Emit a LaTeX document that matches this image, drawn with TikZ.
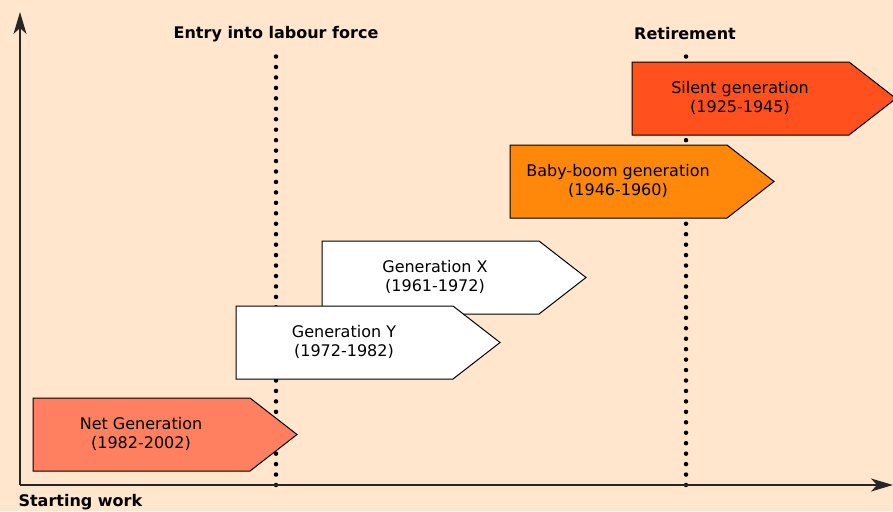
\documentclass[tikz,border=0pt]{standalone}
\usepackage{fontspec}
\setmainfont{DejaVu Sans}
\usetikzlibrary{arrows.meta}
\definecolor{bgpeach}{RGB}{255,230,205}
\definecolor{netsalmon}{RGB}{255,128,96}
\definecolor{boomorange}{RGB}{255,136,10}
\definecolor{silentred}{RGB}{255,80,30}
\tikzstyle{axis}=[line width=1.5pt,draw=black!85,-{Stealth[length=22pt,width=13pt,inset=6pt]}]
\tikzstyle{milestone}=[line width=4.5pt,line cap=round,dash pattern=on 0pt off 10.45pt]
\tikzstyle{genlabel}=[align=center,font=\fontsize{16}{19}\selectfont]
\tikzstyle{headlabel}=[font=\fontsize{16}{18}\selectfont\bfseries]
\newcommand{\drawgeneration}[6][108]{% Syntax: [text offset] {name}{left}{top}{fill}{label}
\draw[fill=#5,line width=1pt] (#3,#4) -- ++(217,0) -- ++(47,36.5) -- ++(-47,36.5) -- ++(-217,0) -- cycle;
\node[genlabel] (#2) at (#3+#1,#4+36) {#6};
}

\begin{document}
\begin{tikzpicture}[x=1pt,y=-1pt]
\fill[bgpeach] (0,0) rectangle (893,511);
\useasboundingbox (0,0) rectangle (893,511);
\coordinate (origin) at (20,485);
\coordinate (ytip) at (20,12);
\coordinate (xtip) at (893,485);
\coordinate (entrytop) at (276,48);
\coordinate (entrybot) at (276,485);
\coordinate (retiretop) at (686,48);
\coordinate (retirebot) at (686,485);
% milestones behind the generations
\draw[milestone] (entrybot) -- (entrytop);
\draw[milestone] (retirebot) -- (retiretop);
\draw[axis] (origin) -- (ytip);
\draw[axis] (origin) -- (xtip);
\node[headlabel] (entry) at (276,34) {Entry into labour force};
\node[headlabel] (retire) at (685,34) {Retirement};
\node[headlabel,anchor=west] (start) at (15,502) {Starting work};
% generations, oldest on top
\drawgeneration{net}{33}{398}{netsalmon}{Net Generation\\(1982-2002)}
\drawgeneration[113]{genx}{322}{241}{white}{Generation X\\(1961-1972)}
\drawgeneration{geny}{236}{306}{white}{Generation Y\\(1972-1982)}
\drawgeneration{boom}{510}{145}{boomorange}{Baby-boom generation\\(1946-1960)}
\drawgeneration{silent}{632}{62}{silentred}{Silent generation\\(1925-1945)}
\end{tikzpicture}
\end{document}
